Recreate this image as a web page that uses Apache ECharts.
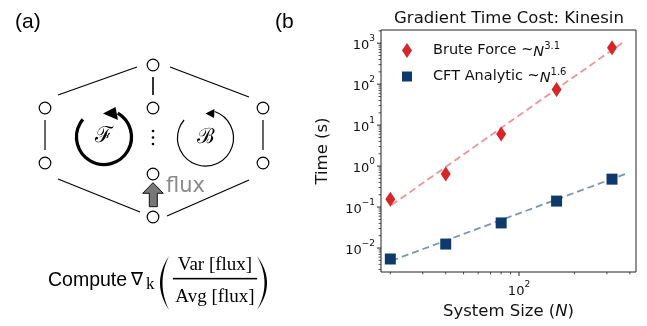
<!DOCTYPE html>
<html><head><meta charset="utf-8">
<script src="https://cdn.jsdelivr.net/npm/echarts@6/dist/echarts.min.js"></script>
<style>html,body{margin:0;padding:0;background:#fff}#c{width:647px;height:326px}</style>
</head><body><div id="c"></div>
<script>
// ---- data ----
const systemSize = [20, 40, 80, 160, 320];
const bruteForce = [0.155, 0.64, 6.1, 74, 770];
const cftAnalytic = [0.0054, 0.0125, 0.041, 0.14, 0.48];
const fitX = [20.3, 377];
const bruteFit = [0.112, 1140];
const cftFit = [0.0049, 0.64];
const xTickMajor = [100];
const xTickMinor = [20, 30, 40, 50, 60, 70, 80, 90, 200, 300, 400];
const yTickMajor = [0.01, 0.1, 1, 10, 100, 1000];
const xRange = [17.8, 432];
const yRange = [0.0026, 2100];

const G = {left: 381, top: 30, right: 636, bottom: 272};
const SANS = '"DejaVu Sans"';

function powLabel(v) {
  const l = Math.log10(v), e = Math.round(l);
  if (Math.abs(l - e) > 1e-6) return '';
  return '{b|10}{s|' + (e < 0 ? '\u2212' + (-e) : e) + '}';
}
const tickRich = {
  b: {fontSize: 13, fontFamily: SANS, color: '#111', verticalAlign: 'bottom', lineHeight: 18},
  s: {fontSize: 9, fontFamily: SANS, color: '#111', verticalAlign: 'top', lineHeight: 12}
};
const legRich = {
  i: {fontFamily: SANS, fontSize: 14.5, fontStyle: 'italic', color: '#111', verticalAlign: 'bottom', lineHeight: 19},
  s: {fontFamily: SANS, fontSize: 10, color: '#111', verticalAlign: 'top', lineHeight: 13}
};

const chart = echarts.init(document.getElementById('c'), null, {renderer: 'canvas'});

const option = {
  animation: false,
  backgroundColor: '#fff',
  title: {
    text: 'Gradient Time Cost: Kinesin',
    left: 504, top: 5, textAlign: 'center',
    textStyle: {fontFamily: SANS, fontSize: 16.5, fontWeight: 'normal', color: '#111'}
  },
  grid: {left: G.left, top: G.top, right: 647 - G.right, bottom: 326 - G.bottom,
    show: true, borderColor: '#222', borderWidth: 1, backgroundColor: 'transparent'},
  legend: [{
    data: [{name: 'Brute Force', icon: 'diamond'}],
    left: 402, top: 41, padding: 0, itemWidth: 10, itemHeight: 15,
    formatter: () => 'Brute Force ~{i|N}{s|3.1}',
    textStyle: {fontFamily: SANS, fontSize: 14.5, color: '#111', padding: [0, 0, 0, 16], rich: legRich}
  }, {
    data: [{name: 'CFT Analytic', icon: 'rect'}],
    left: 402, top: 67, padding: 0, itemWidth: 10, itemHeight: 10,
    formatter: () => 'CFT Analytic ~{i|N}{s|1.6}',
    textStyle: {fontFamily: SANS, fontSize: 14.5, color: '#111', padding: [0, 0, 0, 16], rich: legRich}
  }],
  xAxis: {
    type: 'log', logBase: 10, min: xRange[0], max: xRange[1],
    name: 'System Size ({i|N})', nameLocation: 'middle', nameGap: 29,
    nameTextStyle: {fontFamily: SANS, fontSize: 16.5, color: '#111',
      rich: {i: {fontFamily: SANS, fontSize: 16.5, fontStyle: 'italic', color: '#111'}}},
    axisLine: {show: false}, axisTick: {show: false}, splitLine: {show: false},
    axisLabel: {formatter: powLabel, rich: tickRich, margin: 8}
  },
  yAxis: {
    type: 'log', logBase: 10, min: yRange[0], max: yRange[1],
    name: 'Time (s)', nameLocation: 'middle', nameGap: 50, nameRotate: 90,
    nameTextStyle: {fontFamily: SANS, fontSize: 16.5, color: '#111'},
    axisLine: {show: false}, axisTick: {show: false}, splitLine: {show: false},
    axisLabel: {formatter: powLabel, rich: tickRich, margin: 6}
  },
  series: [
    {name: 'Brute Force fit', type: 'line', data: fitX.map((x, i) => [x, bruteFit[i]]),
      symbol: 'none', silent: true, z: 2,
      lineStyle: {color: 'rgba(238,120,120,0.8)', width: 1.8, type: [7, 4]}},
    {name: 'CFT Analytic fit', type: 'line', data: fitX.map((x, i) => [x, cftFit[i]]),
      symbol: 'none', silent: true, z: 2,
      lineStyle: {color: 'rgba(100,130,170,0.85)', width: 1.8, type: [7, 4]}},
    {name: 'Brute Force', type: 'scatter', data: systemSize.map((x, i) => [x, bruteForce[i]]),
      symbol: 'diamond', symbolSize: [10, 15], z: 3, itemStyle: {color: '#d62728', opacity: 1}},
    {name: 'CFT Analytic', type: 'scatter', data: systemSize.map((x, i) => [x, cftAnalytic[i]]),
      symbol: 'rect', symbolSize: 11, z: 3, itemStyle: {color: '#0d3a6b', opacity: 1}}
  ]
};
chart.setOption(option);

// ---------- graphics: ticks + panel (a) ----------
const g = [];
function line(x1, y1, x2, y2, w, c) {
  g.push({type: 'line', shape: {x1, y1, x2, y2}, style: {stroke: c || '#000', lineWidth: w || 1.2}, silent: true, z: 10});
}
function text(x, y, t, font, opts) {
  opts = opts || {};
  g.push({type: 'text', x, y, silent: true, z: 10,
    style: {text: t, font: font, fill: opts.fill || '#000', align: opts.align || 'left', verticalAlign: opts.va || 'middle'}});
}
// crescent-shaped parenthesis built from two quadratic curves
function paren(x0, y0, y1, cOut, cIn) {
  const pts = [], n = 24, ym = (y0 + y1) / 2;
  for (let i = 0; i <= n; i++) { const t = i / n; pts.push([(1 - t) * (1 - t) * x0 + 2 * t * (1 - t) * cOut + t * t * x0, (1 - t) * (1 - t) * y0 + 2 * t * (1 - t) * ym + t * t * y1]); }
  for (let i = n; i >= 0; i--) { const t = i / n; pts.push([(1 - t) * (1 - t) * x0 + 2 * t * (1 - t) * cIn + t * t * x0, (1 - t) * (1 - t) * y0 + 2 * t * (1 - t) * ym + t * t * y1]); }
  g.push({type: 'polygon', shape: {points: pts}, style: {fill: '#000'}, silent: true, z: 10});
}
// fraction bar first, so nothing else can override it
g.push({type: 'polygon', shape: {points: [[173, 278], [257, 278], [257, 279.3], [173, 279.3]]},
  style: {fill: '#000', stroke: '#000', lineWidth: 0.3}, silent: true, z: 20});

// ticks on the axes via the axis scales
xTickMajor.forEach(v => { const p = chart.convertToPixel({xAxisIndex: 0}, v); line(p, G.bottom, p, G.bottom + 4, 1, '#222'); });
xTickMinor.forEach(v => { const p = chart.convertToPixel({xAxisIndex: 0}, v); line(p, G.bottom, p, G.bottom + 2.4, 0.8, '#222'); });
yTickMajor.forEach(v => { const p = chart.convertToPixel({yAxisIndex: 0}, v); line(G.left - 4, p, G.left, p, 1, '#222'); });
for (let d = -3; d <= 3; d++) for (let k = 2; k <= 9; k++) {
  const v = k * Math.pow(10, d);
  if (v > yRange[0] && v < yRange[1]) { const p = chart.convertToPixel({yAxisIndex: 0}, v); line(G.left - 2.4, p, G.left, p, 0.8, '#222'); }
}

// panel labels
text(15, 22, '(a)', '21px "Liberation Sans"');
text(275, 22, '(b', '21px "Liberation Sans"');

// network edges
line(58, 95, 137, 67); line(170, 67, 249, 97);
line(153, 77, 153, 95, 1.6);
line(45, 120, 45, 150); line(263, 120, 263, 150);
line(58, 179, 140, 212); line(167, 216, 249, 180);
// nodes
[[153, 65], [153, 108], [153, 174], [153, 217], [45, 108], [45, 163], [263, 108], [263, 163]].forEach(p => {
  g.push({type: 'circle', shape: {cx: p[0], cy: p[1], r: 5.8}, style: {fill: '#fff', stroke: '#000', lineWidth: 1.2}, silent: true, z: 11});
});
// vertical dots
[131, 137.5, 144].forEach(y => g.push({type: 'circle', shape: {cx: 153, cy: y, r: 1.3}, style: {fill: '#000'}, silent: true, z: 10}));

const rad = a => a * Math.PI / 180;
// F cycle (thick)
g.push({type: 'arc', shape: {cx: 104, cy: 137, r: 27.5, startAngle: rad(-60), endAngle: rad(220), clockwise: true},
  style: {stroke: '#000', lineWidth: 3.3, fill: null}, silent: true, z: 10});
g.push({type: 'polygon', shape: {points: [[103, 113.5], [115.5, 107], [118, 120]]}, style: {fill: '#000'}, silent: true, z: 10});
text(104, 136, '\u2131', '22px "DejaVu Serif"', {align: 'center'});
// B cycle (thin)
g.push({type: 'arc', shape: {cx: 205.5, cy: 138, r: 28, startAngle: rad(-71), endAngle: rad(220), clockwise: true},
  style: {stroke: '#000', lineWidth: 1.2, fill: null}, silent: true, z: 10});
g.push({type: 'polygon', shape: {points: [[205.5, 113.5], [214.5, 109], [214, 118]]}, style: {fill: '#000'}, silent: true, z: 10});
text(205.5, 138, '\u212C', '21px "DejaVu Serif"', {align: 'center'});

// flux arrow
g.push({type: 'polygon', shape: {points: [[153, 182.7], [163.3, 193.3], [157.3, 193.3], [157.3, 206.7], [149.3, 206.7], [149.3, 193.3], [142.7, 193.3]]},
  style: {fill: '#777', stroke: '#111', lineWidth: 1}, silent: true, z: 10});
text(166, 187, 'flux', '21px ' + SANS, {fill: '#8a8a8a'});

// formula
text(48, 280.5, 'Compute', '19.5px "Liberation Sans"');
text(131, 280, '\u2207', '18px ' + SANS);
text(146, 285, 'k', '17px "Liberation Serif"');
paren(169, 256, 310, 151, 156);
paren(257, 256, 310, 277, 272);
text(215, 265.5, 'Var [flux]', '19px "Liberation Serif"', {align: 'center'});
text(215, 297.5, 'Avg [flux]', '19px "Liberation Serif"', {align: 'center'});

chart.setOption({graphic: g});
</script></body></html>
